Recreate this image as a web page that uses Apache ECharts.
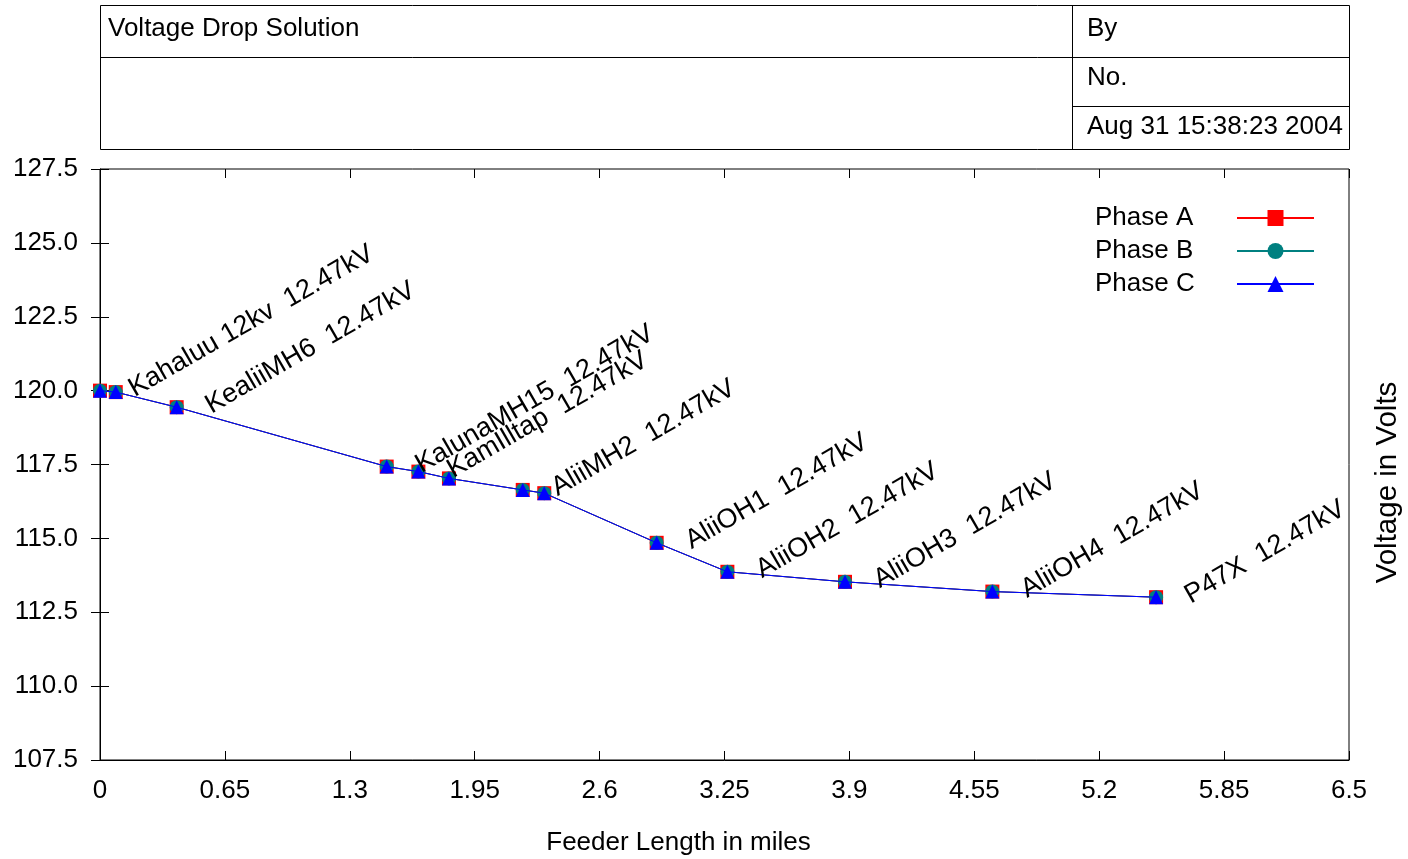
<!DOCTYPE html>
<html><head><meta charset="utf-8">
<script src="https://cdn.jsdelivr.net/npm/echarts@6/dist/echarts.min.js"></script>
<style>html,body{margin:0;padding:0;background:#fff}#c{width:1408px;height:859px}</style>
</head><body><div id="c"></div>
<script>
const distances = [0, 0.082, 0.399, 1.492, 1.657, 1.816, 2.200, 2.312, 2.897, 3.265, 3.877, 4.644, 5.496];
const phaseA = [120.00, 119.95, 119.44, 117.43, 117.26, 117.03, 116.64, 116.53, 114.85, 113.87, 113.53, 113.20, 113.01];
const phaseB = [120.00, 119.95, 119.44, 117.43, 117.26, 117.03, 116.64, 116.53, 114.85, 113.87, 113.53, 113.20, 113.01];
const phaseC = [120.00, 119.95, 119.44, 117.43, 117.26, 117.03, 116.64, 116.53, 114.85, 113.87, 113.53, 113.20, 113.01];
const nodeLabels = ['Kahaluu 12kv  12.47kV', '', 'KealiiMH6  12.47kV', 'KalunaMH15  12.47kV', 'KamIlltap  12.47kV', '',
  'AliiMH2  12.47kV', '', 'AliiOH1  12.47kV', 'AliiOH2  12.47kV', 'AliiOH3  12.47kV', 'AliiOH4  12.47kV', 'P47X  12.47kV'];
const xTickLabels = ['0', '0.65', '1.3', '1.95', '2.6', '3.25', '3.9', '4.55', '5.2', '5.85', '6.5'];
const seriesNames = ['Phase A', 'Phase B', 'Phase C'];
const headerTitle = 'Voltage Drop Solution';
const headerRight = ['By', 'No.', 'Aug 31 15:38:23 2004'];
const xTitle = 'Feeder Length in miles';
const yTitle = 'Voltage in Volts';

const FONT = 'Liberation Sans, Arial, sans-serif';
const FS = 26;
const chart = echarts.init(document.getElementById('c'), null, {renderer: 'canvas'});

function pts(vals) { return distances.map((d, i) => [d, vals[i]]); }

const tickStyle = {show: true, inside: true, length: 9, lineStyle: {color: '#000', width: 1}};

const option = {
  animation: false,
  backgroundColor: '#fff',
  textStyle: {fontFamily: FONT},
  grid: {left: 100, right: 59, top: 169, bottom: 99, show: true, borderColor: '#000', borderWidth: 1, backgroundColor: 'transparent', outerBoundsMode: 'none'},
  legend: {
    orient: 'vertical', right: 88, top: 200, itemWidth: 77, itemHeight: 20, itemGap: 7, align: 'right',
    data: seriesNames,
    formatter: n => '{a|' + n + '}',
    textStyle: {fontFamily: FONT, fontSize: FS, color: '#000', rich: {a: {width: 137, align: 'left', fontSize: FS, fontFamily: FONT, color: '#000', lineHeight: 26}}}
  },
  xAxis: [{
    type: 'value', min: 0, max: 6.5, interval: 0.65, position: 'bottom',
    axisLine: {show: true, lineStyle: {color: '#000', width: 1}},
    axisTick: tickStyle, splitLine: {show: false},
    axisLabel: {show: true, margin: 18, color: '#000', fontSize: FS, fontFamily: FONT, showMinLabel: true, showMaxLabel: true,
      formatter: v => xTickLabels[Math.round(v / 0.65)]},
    name: xTitle, nameLocation: 'middle', nameGap: 70,
    nameTextStyle: {color: '#000', fontSize: FS, fontFamily: FONT, padding: [0, 92, 0, 0]}
  }, {
    type: 'value', min: 0, max: 6.5, interval: 0.65, position: 'top',
    axisLine: {show: false}, axisTick: tickStyle, axisLabel: {show: false}, splitLine: {show: false}
  }],
  yAxis: [{
    type: 'value', min: 107.5, max: 127.5, interval: 2.5, position: 'left',
    axisLine: {show: true, lineStyle: {color: '#000', width: 1}},
    axisTick: tickStyle, splitLine: {show: false},
    axisLabel: {show: true, margin: 22, color: '#000', fontSize: FS, fontFamily: FONT, formatter: v => v.toFixed(1)}
  }, {
    type: 'value', min: 107.5, max: 127.5, interval: 2.5, position: 'right',
    axisLine: {show: false}, axisTick: tickStyle, axisLabel: {show: false}, splitLine: {show: false},
    name: yTitle, nameLocation: 'middle', nameRotate: 90, nameGap: 24,
    nameTextStyle: {color: '#000', fontSize: 29.5, fontFamily: FONT, padding: [0, 36, 0, 0]}
  }],
  series: [
    {name: seriesNames[0], type: 'line', data: pts(phaseA), symbol: 'rect', symbolSize: 14,
      lineStyle: {color: '#ff0000', width: 1}, itemStyle: {color: '#ff0000'}, z: 2},
    {name: seriesNames[1], type: 'line', data: pts(phaseB), symbol: 'circle', symbolSize: 14,
      lineStyle: {color: '#008080', width: 1}, itemStyle: {color: '#008080'}, z: 3},
    {name: seriesNames[2], type: 'line', data: pts(phaseC), symbol: 'triangle', symbolSize: 14,
      lineStyle: {color: '#0000ff', width: 1}, itemStyle: {color: '#0000ff'}, z: 4,
      label: {show: true, position: 'right', distance: 24, rotate: 30, align: 'left', verticalAlign: 'middle',
        color: '#000', fontSize: 27, fontFamily: FONT,
        formatter: p => nodeLabels[p.dataIndex]}}
  ],
  graphic: [
    {type: 'rect', shape: {x: 100.5, y: 5.5, width: 1249, height: 144}, style: {fill: 'none', stroke: '#000', lineWidth: 1}},
    {type: 'line', shape: {x1: 100.5, y1: 57.5, x2: 1349.5, y2: 57.5}, style: {stroke: '#000', lineWidth: 1}},
    {type: 'line', shape: {x1: 1072.5, y1: 5.5, x2: 1072.5, y2: 149.5}, style: {stroke: '#000', lineWidth: 1}},
    {type: 'line', shape: {x1: 1072.5, y1: 106.5, x2: 1349.5, y2: 106.5}, style: {stroke: '#000', lineWidth: 1}},
    {type: 'text', x: 108, y: 29, style: {text: headerTitle, font: FS + 'px ' + FONT, fill: '#000', verticalAlign: 'middle'}},
    {type: 'text', x: 1087, y: 29, style: {text: headerRight[0], font: FS + 'px ' + FONT, fill: '#000', verticalAlign: 'middle'}},
    {type: 'text', x: 1087, y: 78, style: {text: headerRight[1], font: FS + 'px ' + FONT, fill: '#000', verticalAlign: 'middle'}},
    {type: 'text', x: 1087, y: 127, style: {text: headerRight[2], font: FS + 'px ' + FONT, fill: '#000', verticalAlign: 'middle'}}
  ]
};
chart.setOption(option);
</script>
</body></html>
